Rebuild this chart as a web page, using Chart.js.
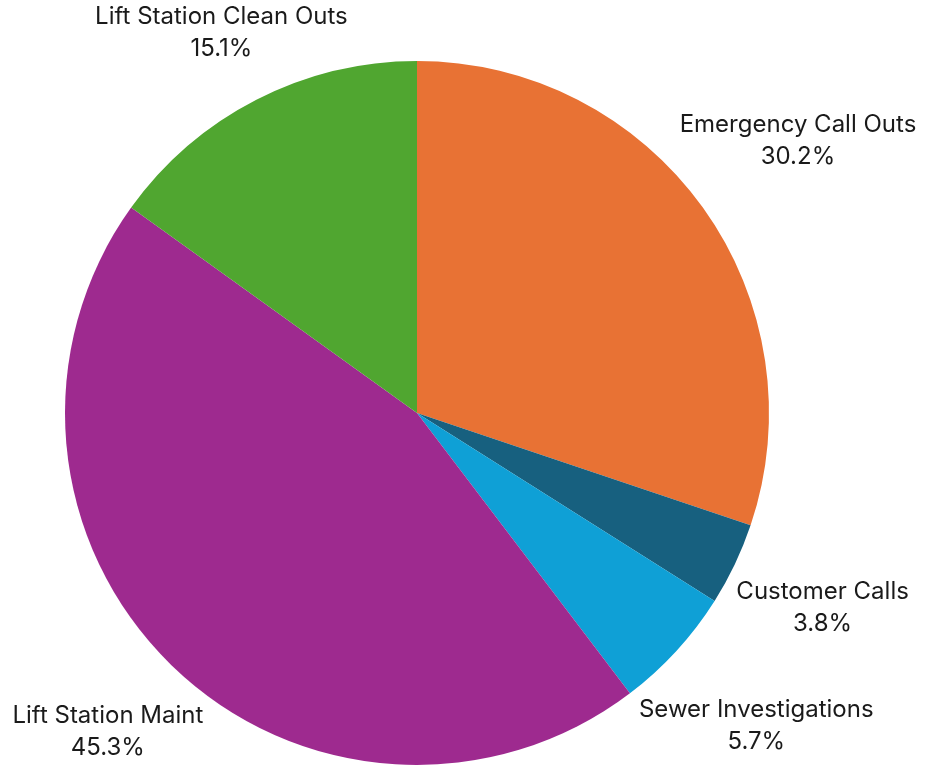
<!DOCTYPE html>
<html lang="en">
<head>
    <meta charset="UTF-8">
    <title>Work Breakdown</title>
    <style>
        body {
            margin: 0;
            padding: 0;
            background-color: #fff;
        }

        .chart-box {
            width: 926px;
            height: 766px;
            position: relative;
        }
    </style>
</head>
<body>
    <div class="chart-box">
        <canvas id="pieChart"></canvas>
    </div>

    <script src="https://cdn.jsdelivr.net/npm/chart.js"></script>
    <script>
        // Data
        const categories = ['Emergency Call Outs', 'Customer Calls', 'Sewer Investigations', 'Lift Station Maint', 'Lift Station Clean Outs'];
        const percentages = [30.2, 3.8, 5.7, 45.3, 15.1];
        const sliceColors = ['#E87234', '#17607F', '#0FA0D6', '#9E2A8F', '#50A630'];

        // Two-line labels centred on each slice's middle ray,
        // pushed out until the nearest box corner clears the pie
        const outsideLabels = {
            id: 'outsideLabels',
            afterDatasetsDraw(chart) {
                const ctx = chart.ctx;
                const meta = chart.getDatasetMeta(0);
                ctx.save();
                ctx.font = '24px Inter, sans-serif';
                ctx.fillStyle = '#1a1a1a';
                ctx.textAlign = 'center';
                ctx.textBaseline = 'middle';
                const lineGap = 32;
                const halfH = 29;
                meta.data.forEach(function(arc, i) {
                    const mid = (arc.startAngle + arc.endAngle) / 2;
                    const ux = Math.cos(mid);
                    const uy = Math.sin(mid);
                    const R = arc.outerRadius + 7;
                    const lines = [categories[i], percentages[i].toFixed(1) + '%'];
                    const halfW = Math.max(ctx.measureText(lines[0]).width, ctx.measureText(lines[1]).width) / 2;
                    const b = Math.abs(ux) * halfW + Math.abs(uy) * halfH;
                    const c = halfW * halfW + halfH * halfH - R * R;
                    const d = b + Math.sqrt(b * b - c);
                    const cx = arc.x + ux * d;
                    const cy = arc.y + uy * d + 1.5;
                    ctx.fillText(lines[0], cx, cy - lineGap / 2);
                    ctx.fillText(lines[1], cx, cy + lineGap / 2);
                });
                ctx.restore();
            }
        };

        const ctxPie = document.getElementById('pieChart').getContext('2d');
        const pieChart = new Chart(ctxPie, {
            type: 'pie',
            data: {
                labels: categories,
                datasets: [{
                    data: percentages,
                    backgroundColor: sliceColors,
                    borderWidth: 0
                }]
            },
            options: {
                responsive: true,
                maintainAspectRatio: false,
                animation: false,
                layout: {
                    padding: { left: 65, right: 157, top: 61, bottom: 1 }
                },
                plugins: {
                    legend: { display: false },
                    tooltip: { enabled: false }
                }
            },
            plugins: [outsideLabels]
        });
    </script>
</body>
</html>
